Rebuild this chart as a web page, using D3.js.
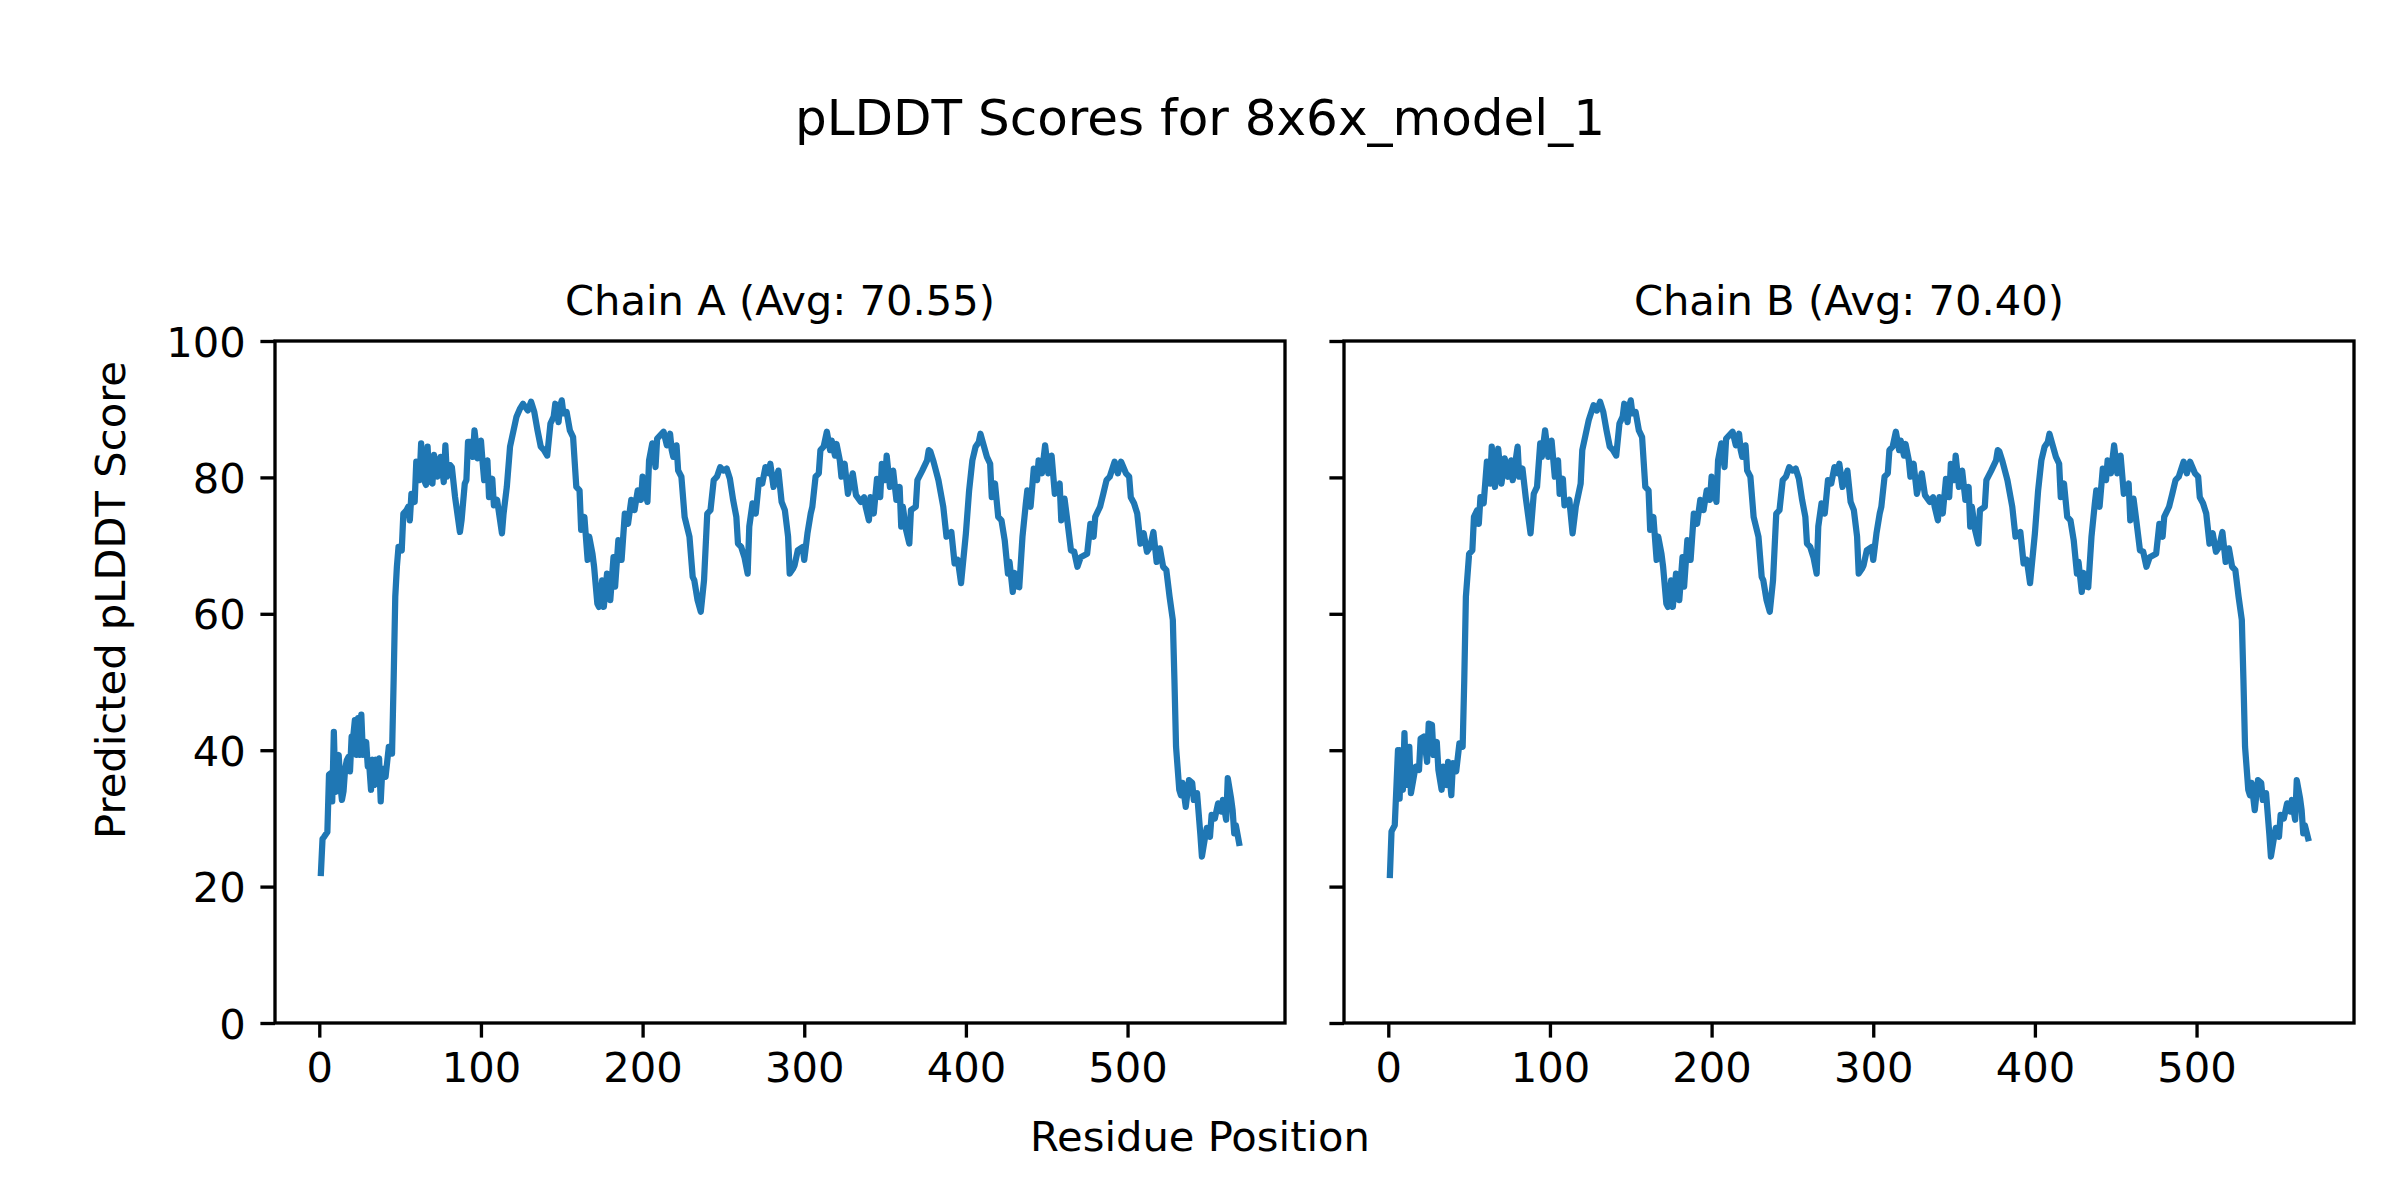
<!DOCTYPE html>
<html>
<head>
<meta charset="utf-8">
<script src="https://cdn.jsdelivr.net/npm/d3@7"></script>
<style>
  html, body { margin: 0; padding: 0; background: #ffffff; }
  svg { display: block; }
</style>
</head>
<body>
<div id="chart"></div>
<script>
// ---------------- data ----------------
const figureTitle = "pLDDT Scores for 8x6x_model_1";
const xAxisLabel = "Residue Position";
const yAxisLabel = "Predicted pLDDT Score";
const chainNames = ["Chain A", "Chain B"];
const chainAverages = ["70.55", "70.40"];
const xTickValues = [0, 100, 200, 300, 400, 500];
const yTickValues = [0, 20, 40, 60, 80, 100];
const residueRange = [1, 569];
const scoreRange = [0, 100];

// [residue, pLDDT] pairs, Chain A
const chainA = [
[1,22],[2,27],[3,27.3],[5,28],[6,36.4],[7,36.6],[8,32.5],[9,42.7],[10,33.9],[11,38],[12,39.3],[13,35],[14,32.7],[15,34],[16,37.3],[17,38.5],[18,39],[19,36.9],[20,42],[21,42],[22,44.4],[23,39.3],[24,44.7],[25,39.3],[26,45.2],[27,39.3],[28,40],[29,41.2],[30,37.6],[31,37.5],[32,34.2],[33,38.6],[34,34.9],[35,38.6],[36,37.5],[37,38.8],[38,32.5],[39,37.3],[41,36.1],[43,40.5],[45,39.5],[46,50.3],[47,62.5],[48,66.9],[49,69.8],[51,69.3],[52,74.7],[54,75.2],[55,75.7],[56,73.7],[57,77.6],[59,76.4],[60,82.3],[62,79.6],[63,85],[64,80.1],[66,78.9],[67,84.5],[68,79.6],[70,79.1],[71,83.3],[73,80.1],[75,83],[77,79.3],[78,84.7],[79,80.1],[81,81.8],[82,81.5],[84,77.1],[87,72],[88,73.7],[90,79.1],[91,79.6],[92,85.2],[94,85.2],[95,83],[96,86.9],[98,82.8],[100,85.4],[101,82.3],[102,79.6],[104,82.5],[105,77.1],[107,79.8],[108,75.9],[110,76.7],[113,71.8],[114,74.7],[116,78.6],[118,84.5],[120,86.7],[122,88.9],[124,90],[126,90.8],[129,89.8],[131,91.1],[133,89.6],[135,86.9],[137,84.5],[139,84],[141,83.2],[143,87.9],[145,88.9],[146,90.8],[148,88.1],[149,90.5],[150,91.3],[151,89.4],[153,89.6],[155,86.9],[157,85.9],[159,78.6],[161,78.1],[162,72.3],[164,74.2],[166,67.9],[167,71.3],[169,68.8],[170,66.9],[172,61.5],[173,61],[175,64.9],[176,61],[178,65.9],[180,62],[182,68.3],[183,64],[185,70.8],[187,67.9],[189,74.7],[191,73.2],[193,76.7],[195,75.2],[197,78.1],[199,76.7],[200,80.1],[203,76.4],[204,82.5],[206,85],[208,81.5],[209,85.7],[211,86.2],[213,86.7],[215,84.7],[217,86.4],[218,84],[219,83],[221,84.7],[222,81],[224,80.1],[226,74.2],[229,71.3],[231,65.4],[232,64.9],[234,62],[236,60.3],[238,64.9],[240,74.7],[242,75.2],[244,79.6],[246,80.1],[248,81.5],[250,81],[252,81.3],[254,79.8],[256,76.7],[258,74.2],[259,70.3],[261,69.8],[263,68.3],[265,65.9],[266,72.8],[268,76.2],[270,74.7],[272,79.6],[274,79.1],[276,81.5],[278,80.6],[279,82],[281,78.6],[284,81],[286,76.4],[288,75.2],[290,71.3],[291,65.9],[293,66.6],[294,67.1],[296,69.3],[299,69.8],[300,67.9],[302,71.8],[304,74.7],[305,75.7],[307,80.1],[309,80.6],[310,84],[312,84.5],[314,86.7],[316,84],[317,85.4],[319,83.2],[320,84.9],[322,82.5],[323,80.1],[325,82],[327,77.6],[330,80.6],[332,77.4],[335,76.4],[337,77.1],[338,75.7],[340,73.7],[341,77.1],[343,74.7],[345,79.8],[347,77.1],[348,82],[350,79.6],[351,83.2],[353,78.6],[355,81],[357,76.7],[359,78.6],[360,72.8],[361,75.7],[363,72.3],[365,70.3],[366,75.2],[369,75.7],[370,79.6],[373,81],[376,82.5],[377,84],[378,83.8],[380,82.3],[383,79.6],[386,75.7],[388,71.3],[391,72],[393,67.4],[395,67.9],[397,64.5],[400,71.8],[402,78.1],[404,82.5],[406,84.5],[408,85.2],[409,86.4],[411,84.7],[413,83],[415,82],[416,77.1],[418,79.1],[420,74.2],[422,73.7],[424,70.8],[426,65.9],[427,67.6],[429,63.2],[430,66],[432,64],[433,63.9],[435,71.3],[437,76],[438,78.1],[440,75.7],[442,81.3],[444,79.6],[445,82.5],[447,80.6],[449,84.7],[451,80.6],[453,83.2],[455,77.6],[458,79.1],[459,73.7],[461,76.9],[463,73.2],[465,69.3],[467,69.1],[469,66.9],[471,68.3],[475,68.8],[477,73.2],[479,71.3],[480,74.2],[483,75.7],[485,77.6],[487,79.6],[489,80.1],[492,82.3],[494,80.6],[496,82.3],[499,80.6],[501,80.1],[502,77.1],[504,76.2],[506,74.7],[508,70.3],[510,71.8],[512,69.1],[514,69.8],[516,72],[518,67.6],[520,69.6],[522,66.9],[524,66.4],[526,62.5],[528,59.1],[529,50.3],[530,40.5],[532,34.2],[533,33.4],[534,35.2],[536,31.7],[538,35.6],[540,35.2],[541,32.7],[543,33.7],[545,27.8],[546,24.4],[548,27.3],[549,28.6],[551,27.3],[552,30.5],[554,30],[556,32.2],[558,31],[559,32.7],[561,29.8],[562,35.9],[564,33],[565,31.2],[566,27.8],[567,29],[569,26.4]
];

// [residue, pLDDT] pairs, Chain B
const chainB = [
[1,21.7],[2,28.1],[4,29],[6,40],[7,32.9],[8,40],[9,34.2],[10,42.5],[11,34.9],[13,40.5],[14,33.7],[16,36.4],[17,37.6],[19,37.1],[20,41.7],[22,42],[24,38.3],[25,43.9],[27,43.7],[28,39.3],[30,41.2],[31,37.1],[33,34.2],[34,37.6],[36,34.9],[37,38.3],[39,33.4],[40,38.1],[42,36.9],[44,41],[46,40.5],[47,50.3],[48,62.5],[50,68.8],[52,69.3],[53,74.2],[55,75.2],[56,73.2],[57,77.1],[59,76.2],[61,82.3],[63,79.1],[64,84.5],[66,78.6],[68,84.2],[70,79.1],[72,82.8],[74,80.1],[76,82.5],[77,79.6],[80,84.5],[81,80.1],[83,81.3],[85,77.1],[88,71.8],[90,77.6],[92,78.6],[94,85],[95,83],[97,86.9],[99,83],[101,85.4],[103,80.1],[105,82.5],[106,77.6],[108,79.8],[109,75.9],[112,76.7],[114,71.8],[116,75.7],[119,79.1],[120,84],[122,86.2],[124,88.4],[127,90.6],[129,89.8],[131,91.1],[133,89.6],[135,86.9],[137,84.5],[139,84],[141,83.2],[143,87.9],[145,88.9],[146,90.8],[148,88.1],[149,90.5],[150,91.3],[151,89.4],[153,89.6],[155,86.9],[157,85.9],[159,78.6],[161,78.1],[162,72.3],[164,74.2],[166,67.9],[167,71.3],[169,68.8],[170,66.9],[172,61.5],[173,61],[175,64.9],[176,61],[178,65.9],[180,62],[182,68.3],[183,64],[185,70.8],[187,67.9],[189,74.7],[191,73.2],[193,76.7],[195,75.2],[197,78.1],[199,76.7],[200,80.1],[203,76.4],[204,82.5],[206,85],[208,81.5],[209,85.7],[211,86.2],[213,86.7],[215,84.7],[217,86.4],[218,84],[219,83],[221,84.7],[222,81],[224,80.1],[226,74.2],[229,71.3],[231,65.4],[232,64.9],[234,62],[236,60.3],[238,64.9],[240,74.7],[242,75.2],[244,79.6],[246,80.1],[248,81.5],[250,81],[252,81.3],[254,79.8],[256,76.7],[258,74.2],[259,70.3],[261,69.8],[263,68.3],[265,65.9],[266,72.8],[268,76.2],[270,74.7],[272,79.6],[274,79.1],[276,81.5],[278,80.6],[279,82],[281,78.6],[284,81],[286,76.4],[288,75.2],[290,71.3],[291,65.9],[293,66.6],[294,67.1],[296,69.3],[299,69.8],[300,67.9],[302,71.8],[304,74.7],[305,75.7],[307,80.1],[309,80.6],[310,84],[312,84.5],[314,86.7],[316,84],[317,85.4],[319,83.2],[320,84.9],[322,82.5],[323,80.1],[325,82],[327,77.6],[330,80.6],[332,77.4],[335,76.4],[337,77.1],[338,75.7],[340,73.7],[341,77.1],[343,74.7],[345,79.8],[347,77.1],[348,82],[350,79.6],[351,83.2],[353,78.6],[355,81],[357,76.7],[359,78.6],[360,72.8],[361,75.7],[363,72.3],[365,70.3],[366,75.2],[369,75.7],[370,79.6],[373,81],[376,82.5],[377,84],[378,83.8],[380,82.3],[383,79.6],[386,75.7],[388,71.3],[391,72],[393,67.4],[395,67.9],[397,64.5],[400,71.8],[402,78.1],[404,82.5],[406,84.5],[408,85.2],[409,86.4],[411,84.7],[413,83],[415,82],[416,77.1],[418,79.1],[420,74.2],[422,73.7],[424,70.8],[426,65.9],[427,67.6],[429,63.2],[430,66],[432,64],[433,63.9],[435,71.3],[437,76],[438,78.1],[440,75.7],[442,81.3],[444,79.6],[445,82.5],[447,80.6],[449,84.7],[451,80.6],[453,83.2],[455,77.6],[458,79.1],[459,73.7],[461,76.9],[463,73.2],[465,69.3],[467,69.1],[469,66.9],[471,68.3],[475,68.8],[477,73.2],[479,71.3],[480,74.2],[483,75.7],[485,77.6],[487,79.6],[489,80.1],[492,82.3],[494,80.6],[496,82.3],[499,80.6],[501,80.1],[502,77.1],[504,76.2],[506,74.7],[508,70.3],[510,71.8],[512,69.1],[514,69.8],[516,72],[518,67.6],[520,69.6],[522,66.9],[524,66.4],[526,62.5],[528,59.1],[529,50.3],[530,40.5],[532,34.2],[533,33.4],[534,35.2],[536,31.2],[538,35.6],[540,35.2],[541,32.7],[543,33.7],[545,27.8],[546,24.4],[548,27.3],[549,28.6],[551,27.3],[552,30.5],[554,30],[556,32.2],[558,31],[559,32.7],[561,29.8],[562,35.6],[564,33],[565,31.2],[566,27.8],[567,29],[569,27.1]
];

const chains = [chainA, chainB];

// ---------------- layout ----------------
const W = 2400, H = 1200;
const FONT = "'DejaVu Sans', 'Liberation Sans', sans-serif";
const panelLeft = [275, 1344];
const panelWidth = 1010;
const panelTop = 341, panelBottom = 1023;
const tickLen = 14.6, tickPad = 14.6, spineW = 3.33;
const lineColor = "#1f77b4";

const svg = d3.select("#chart").append("svg")
  .attr("width", W).attr("height", H)
  .attr("viewBox", `0 0 ${W} ${H}`)
  .style("font-family", FONT);

svg.append("rect").attr("width", W).attr("height", H).attr("fill", "#fff");

// x domain: data extent with 5% margins (matplotlib autoscale)
const span = residueRange[1] - residueRange[0];
const xDomain = [residueRange[0] - 0.05 * span, residueRange[1] + 0.05 * span];

chains.forEach((data, i) => {
  const x0 = panelLeft[i];
  const x = d3.scaleLinear().domain(xDomain).range([x0, x0 + panelWidth]);
  const y = d3.scaleLinear().domain(scoreRange).range([panelBottom, panelTop]);

  const g = svg.append("g");

  // line
  g.append("path")
    .datum(data)
    .attr("fill", "none")
    .attr("stroke", lineColor)
    .attr("stroke-width", 6.25)
    .attr("stroke-linejoin", "round")
    .attr("stroke-linecap", "square")
    .attr("d", d3.line().x(d => x(d[0])).y(d => y(d[1])));

  // x axis
  const xa = g.append("g")
    .attr("transform", `translate(0,${panelBottom})`)
    .call(d3.axisBottom(x).tickValues(xTickValues).tickFormat(d3.format("d"))
      .tickSize(tickLen).tickPadding(tickPad).tickSizeOuter(0));
  xa.select(".domain").remove();
  xa.selectAll(".tick line").attr("stroke", "#000").attr("stroke-width", spineW);
  xa.selectAll(".tick text").attr("fill", "#000").style("font-size", "41.67px")
    .style("font-family", FONT).attr("dy", "0.71em");

  // y axis
  const ya = g.append("g")
    .attr("transform", `translate(${x0},0)`)
    .call(d3.axisLeft(y).tickValues(yTickValues).tickFormat(d3.format("d"))
      .tickSize(tickLen).tickPadding(tickPad).tickSizeOuter(0));
  ya.select(".domain").remove();
  ya.selectAll(".tick line").attr("stroke", "#000").attr("stroke-width", spineW);
  if (i === 0) {
    ya.selectAll(".tick text").attr("fill", "#000").style("font-size", "41.67px")
      .style("font-family", FONT).attr("dy", "0.36em");
  } else {
    ya.selectAll(".tick text").remove();
  }

  // spines (frame)
  g.append("rect")
    .attr("x", x0).attr("y", panelTop)
    .attr("width", panelWidth).attr("height", panelBottom - panelTop)
    .attr("fill", "none").attr("stroke", "#000").attr("stroke-width", spineW);

  // subplot title
  g.append("text")
    .attr("x", x0 + panelWidth / 2).attr("y", 315)
    .attr("text-anchor", "middle")
    .style("font-size", "41.67px")
    .text(`${chainNames[i]} (Avg: ${chainAverages[i]})`);
});

// figure title
svg.append("text")
  .attr("x", W / 2).attr("y", 135)
  .attr("text-anchor", "middle")
  .style("font-size", "50px")
  .text(figureTitle);

// x label
svg.append("text")
  .attr("x", W / 2).attr("y", 1151)
  .attr("text-anchor", "middle")
  .style("font-size", "41.67px")
  .text(xAxisLabel);

// y label
svg.append("text")
  .attr("transform", `translate(125,600) rotate(-90)`)
  .attr("text-anchor", "middle")
  .style("font-size", "41.67px")
  .text(yAxisLabel);
</script>
</body>
</html>
